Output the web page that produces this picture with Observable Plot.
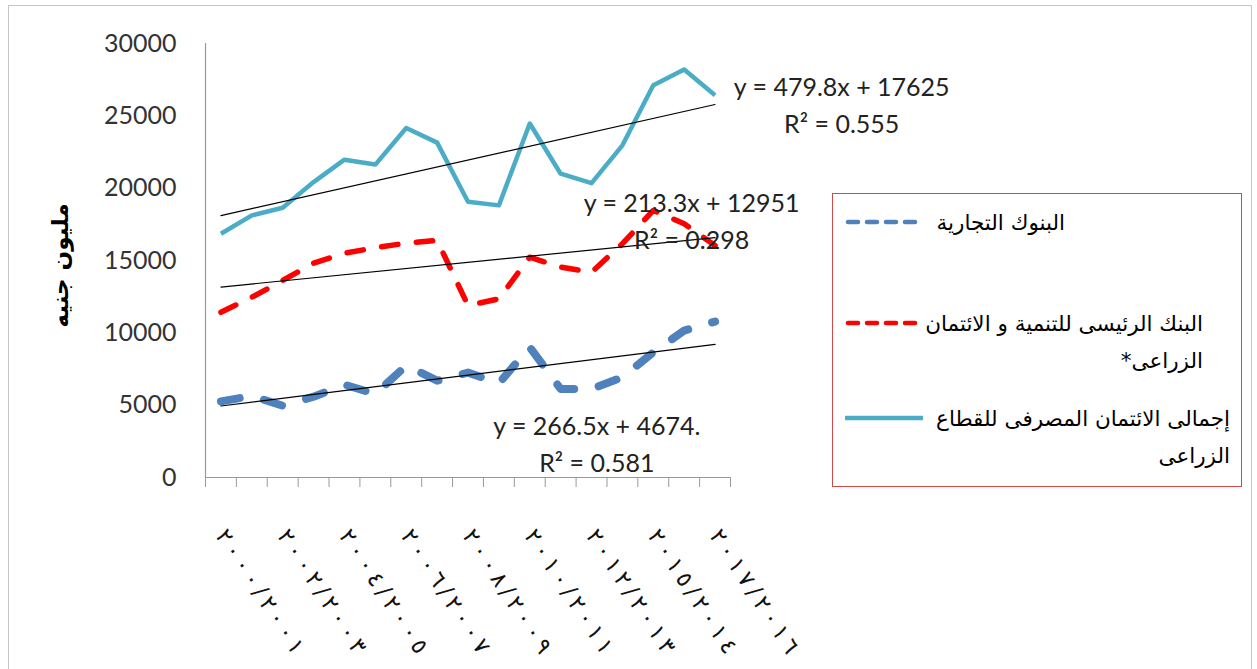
<!DOCTYPE html>
<html><head><meta charset="utf-8">
<script src="https://cdn.jsdelivr.net/npm/d3@7"></script>
<script src="https://cdn.jsdelivr.net/npm/@observablehq/plot@0.6"></script>
<style>
body{margin:0;background:#fff;}
#wrap{position:relative;width:1257px;height:669px;overflow:hidden;background:#fff;}
#frame{position:absolute;left:8px;top:5px;width:1244px;height:700px;border:1px solid #c4c4c4;box-sizing:border-box;}
#chart{position:absolute;left:0;top:0;}
#legend{position:absolute;left:832px;top:193px;width:410px;height:294px;border:1.5px solid #d04a4a;box-sizing:border-box;}
.sw{position:absolute;left:845px;width:78px;height:12px;overflow:visible}
.lt{position:absolute;direction:rtl;text-align:right;white-space:nowrap;font-family:"DejaVu Sans",sans-serif;font-size:21.5px;color:#000;line-height:37px}
</style></head>
<body>
<div id="wrap"><div id="frame"></div><div id="chart"></div><div id="legend"></div></div>
<script>
// ---- data ----
const periods = ["٢٠٠٠/٢٠٠١","٢٠٠١/٢٠٠٢","٢٠٠٢/٢٠٠٣","٢٠٠٣/٢٠٠٤","٢٠٠٤/٢٠٠٥","٢٠٠٥/٢٠٠٦","٢٠٠٦/٢٠٠٧","٢٠٠٧/٢٠٠٨","٢٠٠٨/٢٠٠٩","٢٠٠٩/٢٠١٠","٢٠١٠/٢٠١١","٢٠١١/٢٠١٢","٢٠١٢/٢٠١٣","٢٠١٤/٢٠١٣","٢٠١٥/٢٠١٤","٢٠١٦/٢٠١٥","٢٠١٧/٢٠١٦"];
const commercial  = [5260,5635,4965,5585,6420,5775,7735,6695,7250,6510,9000,6120,6120,6925,8655,10155,10780];
const development = [11420,12460,13620,14815,15510,15880,16200,16390,11890,12350,15230,14540,14190,16160,18460,17540,16040];
const total       = [16850,18120,18650,20420,21970,21630,24160,23150,19060,18810,24470,21000,20350,22960,27120,28200,26420];
const seriesNames = ["البنوك التجارية","البنك الرئيسى للتنمية و الائتمان\nالزراعى*","إجمالى الائتمان المصرفى للقطاع\nالزراعى"];
const trendSlopes = [266.5, 213.3, 479.8];
const trendIntercepts = [4674, 12951, 17625];
const trendLabels = ["y = 266.5x + 4674.\nR² = 0.581","y = 213.3x + 12951\nR² = 0.298","y = 479.8x + 17625\nR² = 0.555"];
const labelPosX = [12.17, 15.24, 20.1];
const labelPosY = [2485, 17896, 25906];
const yTicks = [0,5000,10000,15000,20000,25000,30000];
const yTitle = "مليون جنيه";

// ---- styles ----
const colors = ["#4F81BD","#FF0000","#4BACC6"];
const widths = [8, 5.5, 4.5];
const dashes = ["19,25","16.5,18.5",null];
const legendDash = ["10,9","10,9",null];

const series = [commercial, development, total];
const idx = d3.range(periods.length);
const rowsOf = (vals) => vals.map((v,i)=>({i, v}));
const trendRows = trendSlopes.map((m,s)=>[0, periods.length-1].map(i=>({i, v: trendIntercepts[s] + m*(i+1)})));
const eqRows = trendLabels.map((t,s)=>({x: labelPosX[s], y: labelPosY[s], t}));
const boundaries = d3.range(periods.length+1).map(i=>i-0.5);
const labeled = idx.filter(i=>i%2===0);
// slightly spaced, left-to-right forced rendering of the period label
const spaced = (s) => "\u202D" + Array.from(s).join("\u2009") + "\u202C";

const marks = [
  Plot.ruleX([-0.5], {stroke:"#9a9a9a", strokeWidth:1.2}),
  Plot.ruleY([0], {stroke:"#9a9a9a", strokeWidth:1.2}),
  Plot.axisY({ticks: yTicks, tickSize:0, tickPadding:29, fontSize:25, tickFormat: d=>String(d), label:null, fill:"#333"}),
  Plot.axisX({ticks: boundaries, tickSize:10, stroke:"#9a9a9a", tickFormat: ()=>"", label:null}),
  Plot.axisX({ticks: labeled, tickSize:0, tickRotate:57, textAnchor:"start", lineAnchor:"middle", tickPadding:54,
              tickFormat: i=>spaced(periods[i]), fontFamily:"DejaVu Sans", fontSize:23, label:null, fill:"#111"})
];
series.forEach((vals,s)=>{
  marks.push(Plot.line(rowsOf(vals), {x:"i", y:"v", stroke:colors[s], strokeWidth:widths[s],
    strokeDasharray: dashes[s] ?? undefined, strokeLinecap: dashes[s] ? "round" : "butt", strokeLinejoin:"round"}));
});
trendRows.forEach(r=>marks.push(Plot.line(r, {x:"i", y:"v", stroke:"#000", strokeWidth:1.2})));
marks.push(Plot.text(eqRows, {x:"x", y:"y", text:"t", fontSize:25, lineHeight:1.5, fill:"#222", fontFamily:"Lato"}));
marks.push(Plot.text([yTitle], {frameAnchor:"left", textAnchor:"middle", dx:-145, dy:5, rotate:-90, fontWeight:"bold", fontSize:23, fontFamily:"DejaVu Sans", fill:"#000"}));

const plot = Plot.plot({
  width:1257, height:669,
  marginLeft:205, marginRight:527, marginTop:43, marginBottom:192,
  x:{type:"linear", domain:[-0.5, periods.length-0.5]},
  y:{domain:[0,30000]},
  style:{fontFamily:"Lato", background:"transparent", overflow:"visible"},
  marks
});
document.getElementById("chart").appendChild(plot);

// ---- legend (HTML) ----
const wrap = document.getElementById("wrap");
const swY = [222, 323, 418];
const textRight = [1065, 1203, 1230];
seriesNames.forEach((name,s)=>{
  const ns = "http://www.w3.org/2000/svg";
  const sv = document.createElementNS(ns,"svg");
  sv.setAttribute("class","sw");
  sv.setAttribute("width","78"); sv.setAttribute("height","12");
  sv.style.top = (swY[s]-6)+"px";
  const ln = document.createElementNS(ns,"line");
  ln.setAttribute("x1", legendDash[s] ? "3" : "0"); ln.setAttribute("x2", legendDash[s] ? "75" : "78");
  ln.setAttribute("y1","6"); ln.setAttribute("y2","6");
  ln.setAttribute("stroke", colors[s]); ln.setAttribute("stroke-width", "4.5");
  if (legendDash[s]) { ln.setAttribute("stroke-dasharray", legendDash[s]); ln.setAttribute("stroke-linecap","round"); }
  sv.appendChild(ln);
  wrap.appendChild(sv);
  const d = document.createElement("div");
  d.className = "lt";
  d.style.top = (swY[s]-18.5)+"px";
  d.style.right = (1257 - textRight[s])+"px";
  d.innerHTML = name.split("\n").join("<br>");
  wrap.appendChild(d);
});
</script>
</body></html>
